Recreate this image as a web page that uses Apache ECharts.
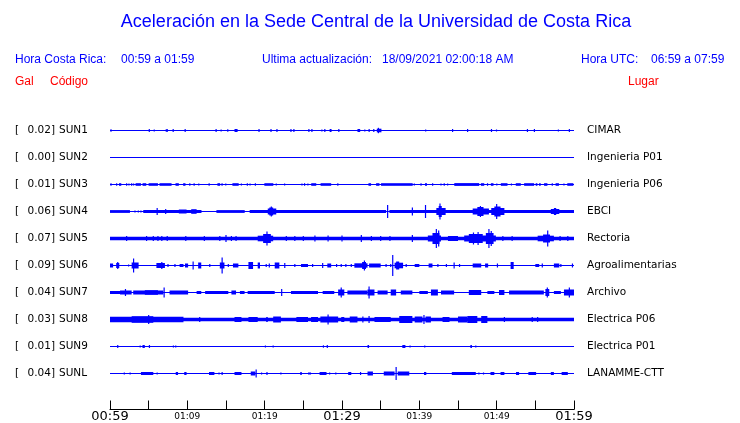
<!DOCTYPE html>
<html><head><meta charset="utf-8">
<script src="https://cdn.jsdelivr.net/npm/echarts@6/dist/echarts.min.js"></script>
<style>html,body{margin:0;padding:0;background:#fff}#c{width:740px;height:423px}</style>
</head><body><div id="c"></div>
<script>
// ---- data ----
const stationCodes = ['SUN1','SUN2','SUN3','SUN4','SUN5','SUN6','SUN7','SUN8','SUN9','SUNL'];
const stationGal = ['0.02','0.00','0.01','0.06','0.07','0.09','0.04','0.03','0.01','0.04'];
const stationPlaces = ['CIMAR','Ingenieria P01','Ingenieria P06','EBCI','Rectoria','Agroalimentarias','Archivo','Electrica P06','Electrica P01','LANAMME-CTT'];
const tickLabels = ['00:59','01:09','01:19','01:29','01:39','01:49','01:59'];
const titleText = 'Aceleración en la Sede Central de la Universidad de Costa Rica';
const updateText = '18/09/2021 02:00:18 AM';
const localRange = '00:59 a 01:59';
const utcRange = '06:59 a 07:59';

// envelope segments per trace: [startMinute, endMinute, halfAmplitude]
const sun1 = [[0.13,0.13,1.3],[5.08,5.08,1.5],[5.72,5.72,1],[7.2,7.5,1.3],[8.17,8.17,1.5],[9.72,9.72,1.5],[13.72,13.72,1.5],[14.37,14.37,1],[15.23,15.23,1.3],[16.1,16.5,1.5],[19.27,19.27,1.5],[20.82,20.82,1.5],[21.59,21.59,1.5],[23.4,23.4,1.5],[23.78,23.78,1.5],[25.72,25.72,1.5],[26.11,26.11,1.5],[27.4,27.4,1],[27.78,27.78,1.5],[28.4,28.65,1.5],[29.59,29.59,1.5],[32.0,32.35,1.5],[32.95,32.95,1],[33.51,33.51,1.5],[34.11,34.11,1.5],[34.5,35.1,1.8],[34.71,34.71,2.7],[40.82,40.82,1],[44.3,44.3,1.5],[46.24,46.24,1.5],[49.33,49.33,1.5],[49.98,49.98,1],[53.98,53.98,1.5],[54.88,54.88,1.5],[57.98,57.98,1],[59.4,59.4,1.5]];
const sun2 = [];
const sun3 = [[0.13,0.13,1.3],[0.86,0.86,1.3],[1.16,1.46,1.3],[2.15,2.15,1.3],[2.45,2.45,1],[2.8,2.8,1.3],[3.05,3.05,1],[3.31,4.0,1.3],[4.21,4.69,1.3],[4.99,6.2,1.3],[6.4,7.96,1.3],[8.47,8.9,1.3],[9.46,9.76,1.3],[10.32,10.32,1.3],[10.88,10.88,1.3],[11.48,11.48,1],[12.82,12.82,1.3],[13.89,14.24,1.3],[14.49,14.49,1.3],[14.97,14.97,1],[15.83,16.64,1.3],[16.99,16.99,1],[17.76,17.76,1.3],[18.11,18.11,1],[18.8,18.8,1.3],[19.96,21.12,1.3],[21.5,21.5,1],[22.58,22.58,1],[24.82,24.82,1],[25.16,25.16,1.3],[25.59,25.59,1],[26.02,26.67,1.3],[27.23,28.6,1.3],[29.46,29.46,1.3],[33.42,33.76,1.3],[34.41,34.84,1.3],[35.05,39.14,1.3],[39.35,39.35,1],[40.22,40.22,1.3],[40.73,40.99,1.3],[41.72,41.72,1.3],[42.8,42.8,1],[43.22,43.22,1.3],[43.66,43.66,1],[44.52,47.74,1.4],[47.96,48.39,1.3],[48.82,48.82,1.3],[49.25,49.59,1.3],[50.02,50.02,1],[50.54,51.4,1.3],[51.91,51.91,1],[52.47,53.12,1.3],[53.55,54.84,1.3],[55.05,55.27,1.3],[55.48,55.7,1.3],[56.13,56.56,1.3],[57.19,57.19,1.3],[57.62,58.05,1.3],[58.7,58.7,1],[59.13,59.91,1.3]];
const sun4 = [[0,2.58,1.4],[3.23,3.23,1],[3.66,3.66,1],[4.0,4.0,1],[4.3,11.83,1.4],[13.76,17.42,1.4],[18.06,35.7,1.4],[36.13,60,1.4],[6.1,6.1,3.5],[7.2,7.2,2.5],[8.9,9.9,2],[10.5,11.2,2.3],[20.4,21.5,3],[20.6,21.1,4],[20.86,20.86,5],[35.9,35.9,6.5],[39.1,39.1,4],[40.8,40.8,6.5],[42.2,43.4,3.5],[42.5,42.9,5.5],[42.67,42.67,8],[46.9,49.0,3],[47.5,48.3,4.5],[47.9,47.9,5.5],[49.3,51.0,3.5],[49.7,50.5,5],[50.0,50.0,7.5],[57.0,58.1,2.5],[57.4,57.7,3.5]];
const sun5 = [[0,60,1.7],[2.15,2.15,2.5],[4.73,4.73,2.5],[5.6,5.6,2.5],[6.2,6.2,2.5],[6.7,6.7,2.5],[7.4,7.4,2.5],[9.8,9.8,2.5],[12.2,12.2,2.5],[14.2,14.2,2.5],[15.0,15.0,3.5],[15.7,15.7,2.5],[16.3,16.3,2.5],[19.1,21.1,2.8],[19.8,20.8,4.5],[20.3,20.3,7],[22.8,22.8,2.5],[23.9,23.9,2.5],[25.0,25.0,2.5],[26.5,26.5,3],[28.2,28.2,3],[30.0,30.0,3],[32.5,32.5,3.5],[33.8,33.8,2.5],[35.0,35.0,2.5],[36.2,36.2,2.5],[39.1,39.1,3.5],[41.1,42.8,3],[41.7,42.6,5.5],[42.2,42.2,9.5],[42.5,42.5,8],[43.7,45.0,2.5],[45.8,49.9,3],[46.4,48.2,4.5],[47.0,47.0,6],[47.6,47.6,6.5],[48.6,49.6,5.5],[49.0,49.0,9.5],[49.3,49.3,7.5],[50.8,50.8,2.5],[52.0,52.0,2.5],[55.3,57.4,2.8],[56.0,56.9,4],[56.6,56.6,8],[58.2,58.2,2.5],[59.2,59.2,2.5]];
const sun6 = [[0,0.4,2],[0.8,1.2,2.5],[1.0,1.0,3.5],[2.4,2.4,1],[2.8,3.7,3],[3.05,3.05,7],[6.0,7.1,2.5],[6.7,6.7,3.5],[7.5,7.5,1.5],[8.4,8.4,1.5],[9.0,9.5,1.5],[9.7,10.1,2],[10.75,10.75,4],[11.4,11.8,3],[12.9,12.9,1.5],[14.2,14.8,3],[14.5,14.5,8],[15.3,15.3,1.5],[15.9,16.6,2],[17.9,18.5,3.5],[19.1,19.4,3],[20.2,20.2,1.5],[20.6,20.6,2],[21.3,21.9,3],[22.6,22.6,2.5],[23.9,23.9,1.5],[24.7,25.6,1.5],[26.2,26.2,1.5],[27.5,27.5,2.5],[28.1,28.6,2],[29.3,29.3,1.5],[29.9,29.9,1.5],[30.5,30.5,1.5],[31.2,31.2,1.5],[31.6,33.3,2.2],[32.6,33.1,3.5],[32.9,32.9,5],[33.5,35.0,2],[35.7,35.7,1.5],[36.3,36.3,1.5],[36.56,36.56,10.5],[36.8,37.9,2.8],[37.0,37.4,4],[38.3,38.3,1.5],[39.4,40.0,1.5],[41.2,41.7,2],[42.4,42.4,1.5],[43.5,43.5,1.5],[44.5,44.5,3],[45.2,45.2,1.5],[46.9,48.0,2],[48.5,48.9,2],[50.1,50.1,2],[51.8,52.2,3.5],[55.0,55.5,1.5],[55.9,55.9,2],[57.4,58.1,2],[58.3,58.3,1.5],[59.8,59.8,2]];
const sun7 = [[0,1.9,1.5],[1.3,2.8,2],[2.0,2.0,3.5],[3.0,6.9,2],[4.5,6.2,2.3],[7.0,7.0,5],[7.7,10.1,2],[11.2,11.8,1.5],[12.3,15.3,1.5],[15.7,16.3,2],[16.8,17.4,1.5],[17.8,21.3,1.5],[22.2,22.2,3.5],[23.4,26.9,1.5],[27.5,29.0,1.5],[29.5,30.3,3],[29.9,29.9,5],[30.7,33.3,2],[33.3,34.2,3],[33.5,33.5,6],[34.6,35.9,2],[36.3,37.0,3],[37.6,39.1,2],[40.0,41.1,1.5],[41.5,42.4,3],[42.8,44.5,2],[46.4,48.0,2.5],[48.8,49.7,1.5],[50.3,51.0,2.5],[51.6,56.1,2],[56.3,56.8,3.5],[56.55,56.55,5],[57.4,58.3,1.5],[58.7,60,3],[59.4,59.4,5]];
const sun8 = [[0,60,1.8],[0,9.5,2.8],[2.8,5.6,3.3],[5.0,5.0,4.5],[11.6,11.6,2.5],[16.1,17.0,2.5],[17.9,19.1,2.5],[20.2,20.4,2.5],[21.1,22.1,3],[24.1,25.6,2.5],[26.0,26.9,2.5],[27.2,29.5,3],[28.2,28.2,5],[29.9,30.3,2.5],[31.0,32.0,3],[32.7,32.7,3],[33.5,33.5,3.5],[34.2,36.3,2.5],[37.4,39.1,3.5],[39.4,40.4,3],[40.6,40.6,4.5],[40.8,41.5,3],[43.0,43.9,2.5],[45.0,46.2,3],[46.2,47.5,3.5],[48.0,48.8,3.5],[51.0,51.0,2.5],[54.6,54.6,2.5],[55.3,55.3,2.5]];
const sun9 = [[1.0,1.0,1.5],[3.9,3.9,1],[4.2,4.5,1.5],[5.1,5.1,1.5],[8.2,8.2,1],[8.5,8.5,1],[20.1,20.1,1],[21.1,21.1,1],[27.6,27.6,1.2],[28.1,28.1,1.5],[33.3,33.5,1.5],[37.8,38.2,1.5],[38.8,38.8,1],[40.7,40.7,1],[46.6,46.8,1.5],[47.3,47.3,1]];
const sunL = [[1.85,1.85,1],[2.6,2.6,1],[4.0,5.6,1.5],[6.1,6.1,1],[8.5,8.8,1.5],[9.6,9.9,1.5],[12.8,13.5,1.5],[14.1,14.1,1],[14.5,14.5,1.5],[16.1,17.0,1.5],[18.2,18.8,2],[18.9,18.9,4],[19.6,19.6,1],[20.3,20.3,1.5],[22.1,22.1,1],[24.6,24.8,1.5],[25.6,26.0,1],[27.1,28.0,1.5],[28.4,28.4,1],[29.2,29.2,1],[30.8,31.2,1.5],[32.4,32.4,1.5],[33.3,34.0,2],[35.4,36.8,2],[37.0,37.0,6.5],[37.2,38.7,2],[40.6,40.9,1.5],[44.2,47.3,1.5],[47.7,47.7,1],[48.3,48.3,1],[49.2,49.7,1.5],[50.5,51.0,1.5],[52.5,52.9,1.5],[54.1,55.1,1.5],[57.0,57.4,1.5],[58.4,59.2,1.5]];
const traces = [sun1, sun2, sun3, sun4, sun5, sun6, sun7, sun8, sun9, sunL];

// ---- chart ----
const chart = echarts.init(document.getElementById('c'), null, {renderer: 'canvas'});
const SPACING = 27;
const BLUE = '#0000ff';
const series = [];
traces.forEach((tr, i) => {
  const off = i * SPACING;
  series.push({
    type: 'line', data: [[0, off], [60, off]], symbol: 'none', silent: true,
    lineStyle: {color: BLUE, width: 1}, z: 2, animation: false
  });
  series.push({
    type: 'custom', silent: true, animation: false, z: 3,
    data: tr.map(e => [e[0], e[1], e[2], off]),
    encode: {x: [0, 1], y: 3},
    renderItem: function (params, api) {
      const t0 = api.value(0), t1 = api.value(1), a = api.value(2), o = api.value(3);
      const p0 = api.coord([t0, o - a]);
      const p1 = api.coord([t1, o + a]);
      const narrow = (p1[0] - p0[0]) < 1.2;
      const w = narrow ? 1.2 : (p1[0] - p0[0]);
      const y = Math.min(p0[1], p1[1]);
      const h = Math.max(Math.abs(p1[1] - p0[1]), 1);
      return {type: 'rect', shape: {x: p0[0] - (narrow ? 0.6 : 0), y: y, width: w, height: h}, style: {fill: BLUE}};
    }
  });
});

const graphics = [];
const hdr = (x, y, text, color, size, family, align) => graphics.push({
  type: 'text', x: x, y: y, silent: true,
  style: {text: text, fill: color, font: size + 'px "' + family + '"', textAlign: align || 'left', textVerticalAlign: 'middle'}
});
hdr(376, 22, titleText, BLUE, 18, 'Liberation Sans', 'center');
hdr(15, 60, 'Hora Costa Rica:', BLUE, 12, 'Liberation Sans');
hdr(121, 60, localRange, BLUE, 12, 'Liberation Sans');
hdr(262, 60, 'Ultima actualización:', BLUE, 12, 'Liberation Sans');
hdr(382, 60, updateText, BLUE, 12, 'Liberation Sans');
hdr(581, 60, 'Hora UTC:', BLUE, 12, 'Liberation Sans');
hdr(651, 60, utcRange, BLUE, 12, 'Liberation Sans');
hdr(15, 82, 'Gal', '#ff0000', 12, 'Liberation Sans');
hdr(50, 82, 'Código', '#ff0000', 12, 'Liberation Sans');
hdr(628, 82, 'Lugar', '#ff0000', 12, 'Liberation Sans');
stationCodes.forEach((code, i) => {
  const y = 130.5 + i * SPACING;
  hdr(15, y, '[', '#000', 10.5, 'DejaVu Sans');
  hdr(27.5, y, stationGal[i] + ']', '#000', 10.5, 'DejaVu Sans');
  hdr(59, y, code, '#000', 10.5, 'DejaVu Sans');
  hdr(587, y, stationPlaces[i], '#000', 10.5, 'DejaVu Sans');
});

chart.setOption({
  animation: false,
  backgroundColor: '#fff',
  grid: {left: 110, width: 464, top: 116.5, height: 293},
  xAxis: {
    type: 'value', min: 0, max: 60, interval: 5,
    axisLine: {show: true, onZero: false, lineStyle: {color: '#000', width: 1}},
    axisTick: {show: true, inside: true, length: 9, lineStyle: {color: '#000', width: 1}},
    splitLine: {show: false},
    axisLabel: {
      show: true, margin: 0, showMinLabel: true, showMaxLabel: true, hideOverlap: false,
      formatter: function (v) {
        if (v % 10 !== 0) return '';
        const lab = tickLabels[v / 10];
        return v % 30 === 0 ? '{b|' + lab + '}' : '{s|' + lab + '}';
      },
      rich: {
        b: {fontFamily: 'DejaVu Sans', fontSize: 13, color: '#000', lineHeight: 14, verticalAlign: 'middle'},
        s: {fontFamily: 'DejaVu Sans', fontSize: 9, color: '#000', lineHeight: 14, verticalAlign: 'middle'}
      }
    }
  },
  yAxis: {type: 'value', inverse: true, min: -14, max: 279, show: false, splitLine: {show: false}},
  series: series,
  graphic: graphics
});
</script></body></html>
